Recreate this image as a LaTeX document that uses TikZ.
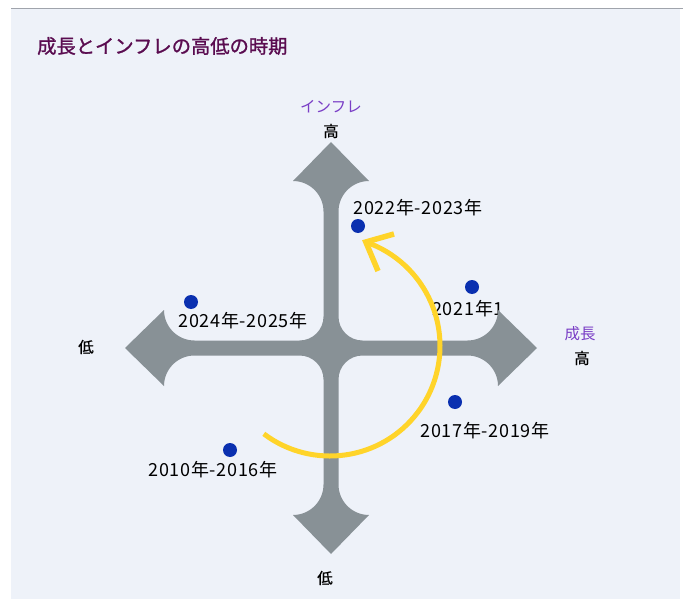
\documentclass[tikz,border=0pt]{standalone}
\usepackage{fontspec}
\usetikzlibrary{calc}
\newfontfamily\jp{Noto Sans CJK JP}
\newfontfamily\jpb[FakeBold=1.2]{Noto Sans CJK JP}
\newfontfamily\jpm[FakeBold=0.6]{Noto Sans CJK JP}
\newfontfamily\jpy[LetterSpace=4]{Noto Sans CJK JP}
\definecolor{panel}{HTML}{EEF2F9}
\definecolor{topline}{HTML}{A0A4AC}
\definecolor{arrowgray}{HTML}{889196}
\definecolor{titlecol}{HTML}{5A0C50}
\definecolor{purp}{HTML}{7A3EC6}
\definecolor{dotblue}{HTML}{0A30B0}
\definecolor{gold}{HTML}{FFD42A}
\tikzset{
  lbl/.style={inner sep=0pt, font=\jpm\fontsize{15.5}{15.5}\selectfont, text=black},
  axislbl/.style={inner sep=0pt, font=\jp\fontsize{15.5}{15.5}\selectfont, text=purp},
  yearlbl/.style={inner sep=0pt, font=\jpy\fontsize{18}{18}\selectfont, text=black},
  dotstyle/.style={circle, fill=dotblue, inner sep=0pt, minimum size=14pt},
  trend/.style={draw=gold, line width=5pt},
}
\begin{document}
\begin{tikzpicture}[x=1pt,y=1pt]
\useasboundingbox (0,0) rectangle (683,-599);
\fill[white] (0,0) rectangle (683,-599);
\fill[panel] (11,-9) rectangle (680,-599);
\draw[topline, line width=1.5pt] (11,-8.5) -- (683,-8.5);

\node[anchor=west, inner sep=0pt, font=\jpb\fontsize{19.3}{19.3}\selectfont, text=titlecol] (title) at (37,-46) {成長とインフレの高低の時期};

% year labels drawn first
\node[yearlbl] (l2223) at (418,-208) {2022年-2023年};
\begin{scope}
\clip (380,-290) rectangle (500,-330);
\node[yearlbl, anchor=west] (l21) at (432,-309) {2021年1};
\end{scope}
\node[yearlbl] (l2425) at (243,-321) {2024年-2025年};
\node[yearlbl] (l1719) at (485,-431) {2017年-2019年};
\node[yearlbl] (l1016) at (213,-470) {2010年-2016年};

% cross of four arrows
\begin{scope}[shift={(331,-348)}]
\fill[arrowgray]
  (0,206) -- (38,167)
  arc[start angle=90, end angle=180, radius=30.5pt] -- (7.5,31.5)
  arc[start angle=180, end angle=270, radius=24pt] -- (136.5,7.5)
  arc[start angle=270, end angle=360, radius=30.5pt] -- (206,0) -- (167,-38)
  arc[start angle=0, end angle=90, radius=30.5pt] -- (31.5,-7.5)
  arc[start angle=90, end angle=180, radius=24pt] -- (7.5,-136.5)
  arc[start angle=180, end angle=270, radius=30.5pt] -- (0,-206) -- (-38,-167)
  arc[start angle=270, end angle=360, radius=30.5pt] -- (-7.5,-31.5)
  arc[start angle=0, end angle=90, radius=24pt] -- (-136.5,-7.5)
  arc[start angle=90, end angle=180, radius=30.5pt] -- (-206,0) -- (-167,38)
  arc[start angle=180, end angle=270, radius=30.5pt] -- (-31.5,7.5)
  arc[start angle=270, end angle=360, radius=24pt] -- (-7.5,136.5)
  arc[start angle=0, end angle=90, radius=30.5pt] -- cycle;
\end{scope}

% axis labels
\node[axislbl] (infl) at (331,-107) {インフレ};
\node[lbl] (infhi) at (331,-131) {高};
\node[lbl] (grlo) at (86,-347) {低};
\node[axislbl] (grow) at (580,-334) {成長};
\node[lbl] (grhi) at (582,-358) {高};
\node[lbl] (inflo) at (325,-578) {低};

% dots
\node[dotstyle] (d2223) at (358,-226) {};
\node[dotstyle] (d21) at (472,-287) {};
\node[dotstyle] (d2425) at (191,-302) {};
\node[dotstyle] (d1719) at (455,-402) {};
\node[dotstyle] (d1016) at (230,-450) {};

% trend arc
\coordinate (arcc) at (330,-346);
\coordinate (arcstart) at ($(arcc)+(233:110)$);
\draw[trend] (arcstart) arc[start angle=233, end angle=431, radius=110pt] coordinate (tip);
\coordinate (arm1) at (394,-234);
\coordinate (arm2) at (378,-271);
\draw[trend, line width=5.5pt, line cap=butt] (arm1) -- (tip) -- (arm2);
\end{tikzpicture}
\end{document}
